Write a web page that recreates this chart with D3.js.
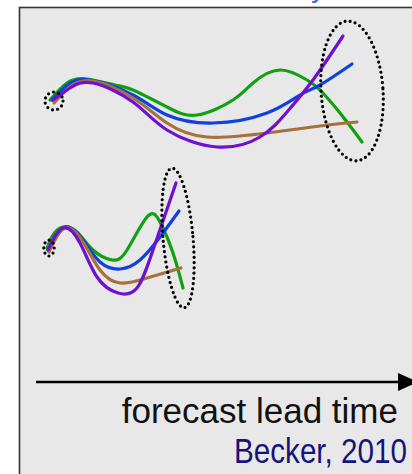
<!DOCTYPE html>
<html><head><meta charset="utf-8">
<script src="https://cdn.jsdelivr.net/npm/d3@7"></script>
<style>html,body{margin:0;padding:0;background:#fff;}svg{display:block;}</style>
</head><body>
<script>
// Series: [lead time, state] in abstract units
const seriesNames = ["green", "blue", "brown", "purple"];
const seriesColors = ["#10a010", "#1040e0", "#a8703a", "#7010d0"];

const longRange = {
  green:  [[2.5,75],[6.75,79.25],[11.75,80.25],[18.75,78.75],[23.25,77.5],[31.75,73.25],[39.25,71.25],[48.25,75],[53.25,79.25],[60,82.5],[66.75,80],[70,77.5],[75,71.75],[80.5,64.5]],
  blue:   [[3,75],[7,78.8],[12.5,80],[23.25,76.25],[31.75,71.25],[43.25,69.25],[56.75,71.75],[65,76.25],[70,78.75],[78,84]],
  brown:  [[3.5,74.25],[7.5,78.3],[13.25,79.75],[23.25,75.5],[31.75,69.25],[41.75,65.75],[56.75,66.75],[70,68.5],[79.25,69.5]],
  purple: [[3.25,75],[7.5,78],[13.25,79.25],[23.25,74.5],[31.75,67.5],[44.25,63.25],[55,65.75],[61.75,72],[68.25,80],[75.75,91]]
};
const shortRange = {
  green:  [[1.75,38],[3.25,41.25],[5.75,43.25],[9.25,42],[13.25,37.5],[18,35],[21.75,37.5],[26.75,45.75],[30,44.5],[33.25,36.75],[35.75,28]],
  blue:   [[2,37.5],[6.25,43.25],[10.75,40],[15,34.5],[20,32.75],[25,35],[30,40.75],[34.75,47.25]],
  brown:  [[2.25,37],[6.25,43],[10.75,39.5],[15,32.5],[20,29.25],[26.75,30.5],[35.25,33]],
  purple: [[2,37.5],[5.75,43],[10,39.25],[14.25,30.75],[19.5,26.75],[24.25,28],[28.25,37.5],[34,54.25]]
};
// Spread ellipses: [cx, cy, rx, ry, tilt]
const spreadEllipses = [
  [3.5, 74.75, 2.25, 2.25, 0],
  [78, 77.25, 7.75, 17.5, -4],
  [2.25, 38, 1.3, 2.0, 0],
  [34.5, 40.5, 3.75, 17.5, -5]
];
const axisLabel = "forecast lead time";
const sourceLabel = "Becker, 2010";

const W = 412, H = 474;
const svg = d3.select("body").append("svg").attr("width", W).attr("height", H);

const x = d3.scaleLinear().domain([0, 100]).range([40, 440]);
const y = d3.scaleLinear().domain([0, 100]).range([400, 0]);

// top cut-off title glyph
svg.append("text").attr("x", 311).attr("y", -3)
  .attr("font-family", "Liberation Sans, Arial, sans-serif").attr("font-size", 30)
  .attr("fill", "#4a6ad0").text("y");

// panel
svg.append("rect").attr("x", 19.5).attr("y", 7.5).attr("width", 420).attr("height", 480)
  .attr("fill", "#e8e8e8").attr("stroke", "#333").attr("stroke-width", 1.6);

const line = d3.line().x(d => x(d[0])).y(d => y(d[1])).curve(d3.curveNatural);

[longRange, shortRange].forEach(group => {
  seriesNames.forEach((name, i) => {
    svg.append("path").attr("d", line(group[name]))
      .attr("fill", "none").attr("stroke", seriesColors[i])
      .attr("stroke-width", 3.2).attr("stroke-linecap", "round");
  });
});

spreadEllipses.forEach(e => {
  const cx = x(e[0]), cy = y(e[1]);
  svg.append("ellipse")
    .attr("cx", cx).attr("cy", cy)
    .attr("rx", x(e[2]) - x(0)).attr("ry", y(0) - y(e[3]))
    .attr("transform", `rotate(${e[4]},${cx},${cy})`)
    .attr("fill", "none").attr("stroke", "#000").attr("stroke-width", 3.2)
    .attr("stroke-linecap", "round").attr("stroke-dasharray", "0 5.2");
});

// arrow (lead time axis)
const arrowY = 382;
svg.append("line").attr("x1", 36).attr("x2", 400).attr("y1", arrowY).attr("y2", arrowY)
  .attr("stroke", "#000").attr("stroke-width", 2.6);
svg.append("path").attr("d", `M398,${arrowY-9} L418,${arrowY} L398,${arrowY+9} Z`).attr("fill", "#000");

svg.append("text").attr("x", 398).attr("y", 423).attr("text-anchor", "end")
  .attr("font-family", "Liberation Sans, Arial, sans-serif").attr("font-size", 35)
  .attr("fill", "#111").text(axisLabel);

svg.append("text").attr("x", 234).attr("y", 463)
  .attr("font-family", "'Liberation Sans Narrow', 'Arial Narrow', 'Liberation Sans', sans-serif").attr("font-size", 35)
  .attr("textLength", 173).attr("lengthAdjust", "spacingAndGlyphs")
  .attr("fill", "#14147a").text(sourceLabel);
</script>
</body></html>
